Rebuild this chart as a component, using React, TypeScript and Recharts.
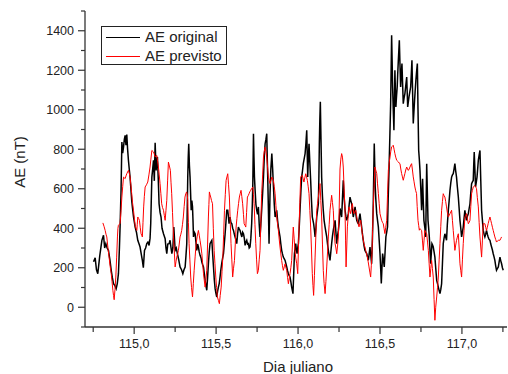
import React from "react";
import { LineChart, Line, XAxis, YAxis } from "recharts";

// AE original (black)
const originalDays = [
  114.752, 114.762, 114.77, 114.778, 114.79, 114.803, 114.813, 114.82, 114.827, 114.835, 114.843, 114.852, 114.86, 114.867, 114.874, 114.882, 114.89, 114.897, 114.904, 114.91,
  114.914, 114.92, 114.925, 114.93, 114.935, 114.94, 114.945, 114.95, 114.955, 114.96, 114.965, 114.97, 114.975, 114.98, 114.985, 114.99, 114.996, 115.006, 115.014, 115.022,
  115.03, 115.036, 115.043, 115.05, 115.056, 115.063, 115.07, 115.077, 115.084, 115.091, 115.097, 115.101, 115.105, 115.108, 115.113, 115.118, 115.123, 115.128, 115.134, 115.138,
  115.142, 115.147, 115.152, 115.158, 115.164, 115.17, 115.179, 115.184, 115.189, 115.194, 115.199, 115.205, 115.213, 115.219, 115.225, 115.23, 115.236, 115.242, 115.25, 115.257,
  115.264, 115.272, 115.28, 115.289, 115.297, 115.304, 115.311, 115.316, 115.321, 115.324, 115.327, 115.33, 115.333, 115.337, 115.341, 115.345, 115.348, 115.352, 115.356, 115.359,
  115.362, 115.367, 115.372, 115.377, 115.382, 115.387, 115.392, 115.397, 115.402, 115.408, 115.413, 115.418, 115.423, 115.428, 115.433, 115.438, 115.443, 115.448, 115.453, 115.458,
  115.463, 115.468, 115.474, 115.479, 115.484, 115.489, 115.494, 115.499, 115.504, 115.509, 115.514, 115.519, 115.524, 115.529, 115.534, 115.54, 115.545, 115.55, 115.555, 115.56,
  115.565, 115.571, 115.575, 115.579, 115.585, 115.59, 115.596, 115.601, 115.606, 115.611, 115.616, 115.621, 115.626, 115.631, 115.636, 115.641, 115.646, 115.652, 115.657, 115.662,
  115.667, 115.672, 115.677, 115.682, 115.687, 115.692, 115.697, 115.702, 115.707, 115.712, 115.717, 115.721, 115.724, 115.728, 115.731, 115.734, 115.738, 115.743, 115.748, 115.753,
  115.758, 115.763, 115.768, 115.773, 115.778, 115.784, 115.789, 115.794, 115.799, 115.804, 115.809, 115.812, 115.815, 115.819, 115.823, 115.826, 115.829, 115.834, 115.84, 115.845,
  115.85, 115.855, 115.86, 115.865, 115.87, 115.875, 115.88, 115.885, 115.89, 115.895, 115.9, 115.905, 115.91, 115.916, 115.921, 115.926, 115.931, 115.936, 115.941, 115.946,
  115.951, 115.956, 115.961, 115.965, 115.969, 115.974, 115.978, 115.982, 115.986, 115.99, 115.994, 115.998, 116.002, 116.007, 116.012, 116.017, 116.022, 116.027, 116.032, 116.037,
  116.043, 116.048, 116.053, 116.056, 116.059, 116.063, 116.067, 116.072, 116.077, 116.082, 116.087, 116.091, 116.095, 116.1, 116.104, 116.109, 116.114, 116.119, 116.124, 116.127,
  116.13, 116.133, 116.136, 116.14, 116.144, 116.149, 116.154, 116.159, 116.165, 116.17, 116.175, 116.18, 116.185, 116.19, 116.195, 116.2, 116.205, 116.21, 116.215, 116.22,
  116.226, 116.231, 116.236, 116.241, 116.246, 116.251, 116.256, 116.261, 116.266, 116.271, 116.276, 116.281, 116.287, 116.292, 116.297, 116.302, 116.307, 116.312, 116.317, 116.322,
  116.327, 116.332, 116.337, 116.342, 116.348, 116.353, 116.358, 116.363, 116.368, 116.373, 116.378, 116.383, 116.388, 116.393, 116.398, 116.403, 116.408, 116.413, 116.419, 116.424,
  116.429, 116.434, 116.439, 116.444, 116.449, 116.454, 116.459, 116.462, 116.465, 116.468, 116.471, 116.475, 116.48, 116.485, 116.49, 116.495, 116.5, 116.504, 116.508, 116.512,
  116.516, 116.521, 116.526, 116.531, 116.536, 116.541, 116.546, 116.55, 116.555, 116.56, 116.565, 116.568, 116.571, 116.574, 116.577, 116.581, 116.585, 116.588, 116.591, 116.594,
  116.597, 116.601, 116.605, 116.608, 116.612, 116.615, 116.618, 116.622, 116.626, 116.63, 116.634, 116.638, 116.642, 116.647, 116.652, 116.657, 116.663, 116.666, 116.669, 116.673,
  116.677, 116.682, 116.687, 116.691, 116.695, 116.699, 116.703, 116.707, 116.711, 116.715, 116.719, 116.723, 116.728, 116.732, 116.736, 116.74, 116.744, 116.749, 116.754, 116.757,
  116.76, 116.764, 116.768, 116.774, 116.779, 116.782, 116.785, 116.789, 116.793, 116.797, 116.801, 116.805, 116.809, 116.813, 116.817, 116.821, 116.825, 116.83, 116.835, 116.84,
  116.846, 116.851, 116.856, 116.861, 116.866, 116.871, 116.876, 116.881, 116.886, 116.891, 116.896, 116.901, 116.906, 116.911, 116.917, 116.922, 116.927, 116.932, 116.937, 116.942,
  116.947, 116.952, 116.957, 116.962, 116.967, 116.972, 116.978, 116.983, 116.988, 116.993, 116.998, 117.003, 117.008, 117.013, 117.018, 117.023, 117.028, 117.033, 117.039, 117.044,
  117.049, 117.054, 117.059, 117.064, 117.069, 117.072, 117.075, 117.079, 117.083, 117.087, 117.092, 117.096, 117.1, 117.105, 117.11, 117.115, 117.12, 117.125, 117.13, 117.135,
  117.14, 117.145, 117.15, 117.155, 117.16, 117.165, 117.171, 117.176, 117.181, 117.186, 117.191, 117.196, 117.201, 117.206, 117.211, 117.216, 117.222, 117.227, 117.232, 117.237,
  117.242, 117.247, 117.252,
];
const originalAE = [
  230, 250, 190, 170, 260, 339, 364, 300, 322, 300, 288, 240, 187, 150, 119, 110, 94, 120, 170, 300,
  406, 592, 837, 780, 811, 850, 870, 820, 875, 800, 744, 700, 659, 600, 541, 500, 457, 406, 380, 339,
  320, 305, 270, 237, 200, 288, 300, 322, 330, 313, 350, 423, 560, 659, 700, 744, 640, 833, 693, 740,
  761, 650, 524, 480, 457, 400, 372, 360, 347, 300, 271, 320, 322, 339, 300, 271, 300, 406, 288, 300,
  271, 240, 204, 190, 170, 190, 204, 260, 322, 500, 659, 760, 828, 720, 659, 560, 491, 540, 508, 440,
  356, 380, 372, 330, 288, 320, 305, 280, 263, 250, 229, 215, 204, 170, 136, 110, 86, 150, 220, 280,
  322, 330, 339, 270, 204, 140, 94, 70, 52, 80, 102, 120, 153, 190, 220, 250, 271, 320, 372, 430,
  491, 491, 460, 423, 457, 430, 423, 400, 389, 370, 356, 340, 322, 370, 406, 395, 389, 370, 356, 380,
  372, 350, 313, 330, 339, 320, 322, 300, 305, 350, 423, 520, 626, 879, 760, 659, 592, 520, 491, 470,
  508, 420, 356, 420, 491, 580, 659, 760, 828, 850, 879, 760, 659, 500, 322, 450, 575, 700, 778, 700,
  609, 520, 457, 470, 491, 440, 406, 380, 356, 320, 288, 270, 254, 245, 237, 220, 204, 185, 170, 160,
  153, 130, 102, 85, 69, 180, 271, 300, 322, 290, 271, 300, 322, 400, 491, 580, 659, 690, 727, 750,
  778, 830, 896, 780, 659, 760, 828, 730, 642, 540, 457, 440, 423, 390, 356, 400, 457, 490, 524, 650,
  828, 950, 1040, 850, 659, 560, 491, 440, 406, 380, 356, 320, 288, 260, 237, 280, 322, 360, 389, 415,
  440, 380, 322, 360, 389, 430, 500, 480, 457, 550, 643, 560, 491, 460, 440, 455, 474, 520, 558, 540,
  525, 490, 457, 480, 508, 470, 440, 430, 423, 450, 474, 440, 407, 370, 339, 310, 288, 280, 272, 255,
  238, 270, 305, 260, 221, 350, 525, 680, 829, 720, 609, 540, 474, 440, 407, 340, 272, 200, 120, 200,
  272, 240, 204, 280, 356, 380, 407, 550, 693, 860, 1031, 1200, 1377, 1250, 1115, 1000, 896, 1050, 1200, 1100,
  1014, 1070, 1115, 1180, 1250, 1300, 1352, 1230, 1115, 1180, 1234, 1130, 1031, 1060, 1082, 1120, 1166, 1090, 1014, 1040,
  1065, 1090, 1115, 1180, 1250, 1090, 930, 990, 1048, 1100, 1149, 1190, 1234, 1000, 795, 750, 693, 600, 491, 560,
  651, 540, 440, 400, 356, 540, 727, 580, 440, 400, 356, 290, 221, 270, 322, 315, 305, 280, 254, 200,
  136, 120, 102, 85, 69, 90, 119, 220, 322, 350, 372, 355, 339, 420, 491, 540, 592, 630, 659, 670,
  676, 700, 727, 690, 659, 610, 558, 500, 440, 400, 356, 380, 406, 450, 491, 460, 440, 460, 474, 500,
  524, 580, 626, 635, 642, 720, 786, 700, 609, 630, 659, 700, 744, 770, 794, 640, 491, 440, 389, 370,
  356, 370, 389, 370, 356, 345, 339, 320, 305, 290, 271, 255, 237, 210, 187, 195, 204, 230, 254, 235,
  220, 200, 187,
];

// AE previsto (red)
const previstoDays = [
  114.809, 114.816, 114.823, 114.828, 114.833, 114.84, 114.847, 114.853, 114.86, 114.865, 114.87, 114.874, 114.878, 114.883, 114.888, 114.893, 114.898, 114.901, 114.904, 114.909,
  114.914, 114.92, 114.925, 114.93, 114.935, 114.94, 114.945, 114.95, 114.955, 114.96, 114.965, 114.97, 114.975, 114.98, 114.985, 114.99, 114.996, 115.001, 115.006, 115.011,
  115.016, 115.019, 115.022, 115.027, 115.032, 115.037, 115.042, 115.046, 115.05, 115.054, 115.058, 115.062, 115.067, 115.075, 115.083, 115.09, 115.097, 115.102, 115.108, 115.113,
  115.118, 115.123, 115.128, 115.133, 115.138, 115.143, 115.148, 115.153, 115.158, 115.163, 115.168, 115.173, 115.179, 115.184, 115.189, 115.194, 115.199, 115.204, 115.209, 115.215,
  115.221, 115.225, 115.229, 115.234, 115.24, 115.245, 115.25, 115.255, 115.26, 115.265, 115.27, 115.275, 115.28, 115.285, 115.29, 115.295, 115.3, 115.305, 115.31, 115.315,
  115.32, 115.324, 115.327, 115.331, 115.335, 115.34, 115.345, 115.35, 115.356, 115.361, 115.366, 115.372, 115.378, 115.385, 115.392, 115.397, 115.402, 115.408, 115.413, 115.418,
  115.423, 115.428, 115.433, 115.438, 115.443, 115.448, 115.453, 115.456, 115.459, 115.463, 115.467, 115.472, 115.478, 115.483, 115.488, 115.493, 115.498, 115.503, 115.508, 115.514,
  115.52, 115.525, 115.531, 115.536, 115.541, 115.546, 115.551, 115.556, 115.561, 115.566, 115.571, 115.576, 115.581, 115.586, 115.591, 115.596, 115.601, 115.606, 115.612, 115.617,
  115.622, 115.627, 115.632, 115.637, 115.642, 115.647, 115.652, 115.657, 115.662, 115.667, 115.671, 115.676, 115.681, 115.686, 115.691, 115.696, 115.701, 115.706, 115.711, 115.716,
  115.724, 115.728, 115.732, 115.737, 115.742, 115.747, 115.752, 115.758, 115.763, 115.768, 115.773, 115.778, 115.784, 115.789, 115.794, 115.799, 115.804, 115.809, 115.814, 115.819,
  115.824, 115.829, 115.834, 115.84, 115.845, 115.85, 115.855, 115.86, 115.865, 115.87, 115.875, 115.88, 115.885, 115.89, 115.895, 115.9, 115.905, 115.91, 115.916, 115.921,
  115.926, 115.931, 115.936, 115.941, 115.946, 115.951, 115.956, 115.961, 115.966, 115.971, 115.976, 115.981, 115.986, 115.992, 115.998, 116.002, 116.006, 116.011, 116.016, 116.021,
  116.026, 116.031, 116.036, 116.041, 116.047, 116.052, 116.057, 116.062, 116.067, 116.072, 116.077, 116.082, 116.087, 116.091, 116.095, 116.1, 116.104, 116.109, 116.114, 116.119,
  116.124, 116.129, 116.134, 116.139, 116.144, 116.149, 116.154, 116.159, 116.165, 116.17, 116.175, 116.18, 116.185, 116.19, 116.195, 116.2, 116.205, 116.21, 116.215, 116.22,
  116.226, 116.231, 116.236, 116.241, 116.246, 116.251, 116.256, 116.261, 116.266, 116.271, 116.276, 116.281, 116.287, 116.29, 116.293, 116.297, 116.301, 116.306, 116.311, 116.316,
  116.321, 116.326, 116.331, 116.336, 116.341, 116.346, 116.352, 116.357, 116.362, 116.367, 116.372, 116.377, 116.382, 116.387, 116.392, 116.397, 116.402, 116.408, 116.413, 116.418,
  116.423, 116.428, 116.433, 116.438, 116.443, 116.447, 116.451, 116.455, 116.459, 116.464, 116.469, 116.474, 116.48, 116.485, 116.49, 116.495, 116.5, 116.505, 116.51, 116.515,
  116.52, 116.525, 116.53, 116.535, 116.541, 116.546, 116.551, 116.556, 116.561, 116.566, 116.571, 116.576, 116.581, 116.586, 116.591, 116.596, 116.602, 116.607, 116.612, 116.617,
  116.622, 116.627, 116.632, 116.637, 116.642, 116.647, 116.652, 116.657, 116.663, 116.668, 116.673, 116.678, 116.683, 116.688, 116.693, 116.698, 116.703, 116.708, 116.713, 116.718,
  116.723, 116.727, 116.732, 116.736, 116.74, 116.744, 116.749, 116.754, 116.759, 116.764, 116.769, 116.774, 116.779, 116.785, 116.79, 116.795, 116.8, 116.805, 116.81, 116.815,
  116.82, 116.825, 116.83, 116.835, 116.84, 116.846, 116.851, 116.856, 116.861, 116.866, 116.871, 116.876, 116.881, 116.886, 116.891, 116.896, 116.901, 116.906, 116.911, 116.917,
  116.922, 116.927, 116.932, 116.937, 116.942, 116.947, 116.952, 116.957, 116.962, 116.967, 116.972, 116.978, 116.983, 116.988, 116.993, 116.998, 117.003, 117.008, 117.013, 117.018,
  117.023, 117.028, 117.033, 117.039, 117.044, 117.049, 117.054, 117.059, 117.064, 117.069, 117.074, 117.079, 117.084, 117.089, 117.094, 117.1, 117.105, 117.11, 117.115, 117.12,
  117.125, 117.13, 117.135, 117.14, 117.145, 117.15, 117.155, 117.16, 117.165, 117.171, 117.176, 117.181, 117.186, 117.191, 117.196, 117.201, 117.206, 117.211, 117.216, 117.222,
  117.227, 117.232, 117.237, 117.242,
];
const previstoAE = [
  427, 410, 389, 370, 356, 300, 254, 210, 170, 130, 86, 60, 38, 90, 153, 250, 356, 400, 415, 420,
  423, 490, 558, 610, 659, 655, 651, 665, 676, 685, 693, 680, 659, 620, 575, 530, 491, 450, 415, 400,
  389, 420, 457, 450, 440, 405, 372, 365, 356, 430, 508, 560, 609, 620, 634, 670, 710, 750, 794, 790,
  786, 775, 761, 765, 769, 740, 710, 670, 626, 575, 524, 505, 491, 465, 440, 490, 541, 640, 735, 715,
  693, 630, 575, 480, 356, 280, 204, 230, 254, 270, 288, 320, 356, 370, 389, 420, 457, 510, 558, 575,
  584, 570, 541, 430, 322, 240, 153, 100, 52, 120, 187, 255, 322, 360, 389, 365, 339, 305, 271, 220,
  170, 135, 102, 140, 187, 320, 457, 520, 584, 570, 558, 540, 524, 400, 288, 220, 153, 100, 52, 35,
  18, 60, 102, 180, 254, 370, 491, 570, 642, 660, 676, 620, 558, 440, 322, 240, 153, 195, 237, 320,
  406, 450, 491, 525, 558, 575, 592, 560, 524, 470, 423, 415, 406, 480, 558, 565, 575, 585, 592, 600,
  609, 570, 524, 420, 322, 240, 170, 187, 240, 288, 430, 575, 670, 761, 790, 811, 790, 761, 710, 659,
  640, 626, 640, 659, 650, 642, 610, 575, 515, 457, 420, 389, 345, 305, 270, 237, 210, 187, 205, 220,
  200, 187, 150, 119, 145, 170, 200, 237, 320, 406, 350, 288, 250, 220, 170, 290, 406, 530, 659, 665,
  668, 650, 634, 655, 676, 660, 642, 610, 575, 490, 406, 290, 170, 110, 60, 160, 254, 370, 491, 525,
  558, 590, 626, 540, 457, 320, 187, 120, 69, 130, 204, 280, 356, 420, 491, 530, 567, 530, 491, 400,
  322, 300, 271, 310, 356, 500, 700, 750, 778, 760, 710, 600, 474, 340, 204, 300, 407, 460, 508, 490,
  474, 500, 525, 500, 474, 482, 491, 465, 440, 425, 407, 425, 440, 405, 373, 345, 322, 305, 288, 270,
  255, 230, 204, 178, 153, 210, 272, 390, 508, 610, 710, 695, 677, 625, 576, 525, 474, 457, 440, 430,
  423, 398, 373, 405, 440, 570, 693, 730, 761, 790, 812, 815, 820, 800, 778, 760, 744, 740, 736, 730,
  727, 700, 677, 660, 643, 660, 677, 695, 710, 700, 693, 700, 710, 720, 727, 695, 660, 635, 609, 590,
  576, 510, 440, 415, 390, 398, 393, 389, 340, 288, 340, 389, 380, 372, 330, 288, 220, 153, 195, 237,
  195, 153, 40, -66, 0, 52, 100, 153, 240, 322, 410, 491, 535, 575, 565, 558, 535, 508, 480, 457,
  465, 474, 482, 491, 440, 389, 340, 288, 315, 339, 355, 372, 300, 220, 185, 153, 240, 322, 390, 457,
  465, 474, 450, 423, 430, 440, 510, 575, 592, 609, 613, 617, 610, 600, 555, 508, 430, 356, 305, 254,
  340, 423, 423, 423, 405, 389, 405, 423, 440, 457, 440, 423, 405, 389, 372, 356, 343, 330, 335, 339,
  339, 339, 348, 356,
];

const xTicks = [114.75, 115, 115.25, 115.5, 115.75, 116, 116.25, 116.5, 116.75, 117, 117.25];
const yTicks = [-100, 0, 100, 200, 300, 400, 500, 600, 700, 800, 900, 1000, 1100, 1200, 1300, 1400, 1500];
const yLabels = [0, 200, 400, 600, 800, 1000, 1200, 1400];

const originalData = originalDays.map((d, i) => ({ d, ae: originalAE[i] }));
const previstoData = previstoDays.map((d, i) => ({ d, ae: previstoAE[i] }));

const FONT = "'Liberation Sans', Arial, sans-serif";
const AXIS = "#333";
const TEXT = "#222";

function YTick({ x, y, payload }: any) {
  const v = payload.value;
  const major = yLabels.includes(v);
  return (
    <g>
      <line x1={x} x2={x - (major ? 7 : 4)} y1={y} y2={y} stroke={AXIS} strokeWidth={1.2} />
      {major && (
        <text x={x - 11} y={y} dy="0.35em" textAnchor="end" fontSize={12.5} fontFamily={FONT} fill={TEXT}>
          {v}
        </text>
      )}
    </g>
  );
}

function XTick({ x, y, payload }: any) {
  const v = payload.value;
  const major = Math.abs(v * 2 - Math.round(v * 2)) < 1e-6;
  return (
    <g>
      <line x1={x} x2={x} y1={y} y2={y + (major ? 7 : 5)} stroke={AXIS} strokeWidth={1.2} />
      {major && (
        <text x={x} y={y + 17} dy="0.35em" textAnchor="middle" fontSize={12.5} fontFamily={FONT} fill={TEXT}>
          {v.toFixed(1).replace(".", ",")}
        </text>
      )}
    </g>
  );
}

export default function App() {
  return (
    <div style={{ position: "relative", width: 508, height: 374, background: "#fff" }}>
      <style>{"body{margin:0}"}</style>
      <LineChart width={508} height={374} margin={{ top: 11, right: 1, bottom: 0, left: 0 }}>
        <XAxis
          dataKey="d"
          type="number"
          domain={[114.7, 117.275]}
          ticks={xTicks}
          interval={0}
          height={47}
          tickSize={0}
          tickMargin={0}
          tickLine={false}
          tick={<XTick />}
          axisLine={{ stroke: AXIS, strokeWidth: 1.3 }}
          allowDataOverflow
        />
        <XAxis
          xAxisId="top"
          orientation="top"
          dataKey="d"
          type="number"
          domain={[114.7, 117.275]}
          height={0}
          tick={false}
          tickLine={false}
          axisLine={{ stroke: AXIS, strokeWidth: 1.3 }}
        />
        <YAxis
          type="number"
          domain={[-100, 1500]}
          ticks={yTicks}
          interval={0}
          width={85}
          tickSize={0}
          tickMargin={0}
          tickLine={false}
          tick={<YTick />}
          axisLine={{ stroke: AXIS, strokeWidth: 1.3 }}
          allowDataOverflow
        />
        <Line
          data={originalData}
          dataKey="ae"
          type="linear"
          stroke="#000"
          strokeWidth={1.5}
          dot={false}
          isAnimationActive={false}
        />
        <Line
          data={previstoData}
          dataKey="ae"
          type="linear"
          stroke="#ff0000"
          strokeWidth={1}
          dot={false}
          isAnimationActive={false}
        />
      </LineChart>
      <svg width={508} height={374} style={{ position: "absolute", left: 0, top: 0, pointerEvents: "none" }}>
        <text x={20} y={162} dy="0.35em" transform="rotate(-90 20 162)" textAnchor="middle" fontSize={15} fontFamily={FONT} fill={TEXT}>
          AE (nT)
        </text>
        <text x={298} y={367} dy="0.35em" textAnchor="middle" fontSize={15} fontFamily={FONT} fill={TEXT}>
          Dia juliano
        </text>
      </svg>
      <div
        style={{
          position: "absolute",
          left: 101,
          top: 26,
          width: 124,
          height: 37,
          border: "1px solid #222",
          background: "#fff",
          fontFamily: FONT,
          fontSize: 15,
          color: TEXT,
        }}
      >
        {[
          { name: "AE original", color: "#000" },
          { name: "AE previsto", color: "#ff0000" },
        ].map((item, i) => (
          <div key={item.name} style={{ position: "absolute", left: 4, top: 1 + i * 19, height: 18, display: "flex", alignItems: "center" }}>
            <span style={{ display: "inline-block", width: 34, height: 0, borderTop: `1px solid ${item.color}`, marginRight: 5 }} />
            <span style={{ lineHeight: "18px" }}>{item.name}</span>
          </div>
        ))}
      </div>
    </div>
  );
}
